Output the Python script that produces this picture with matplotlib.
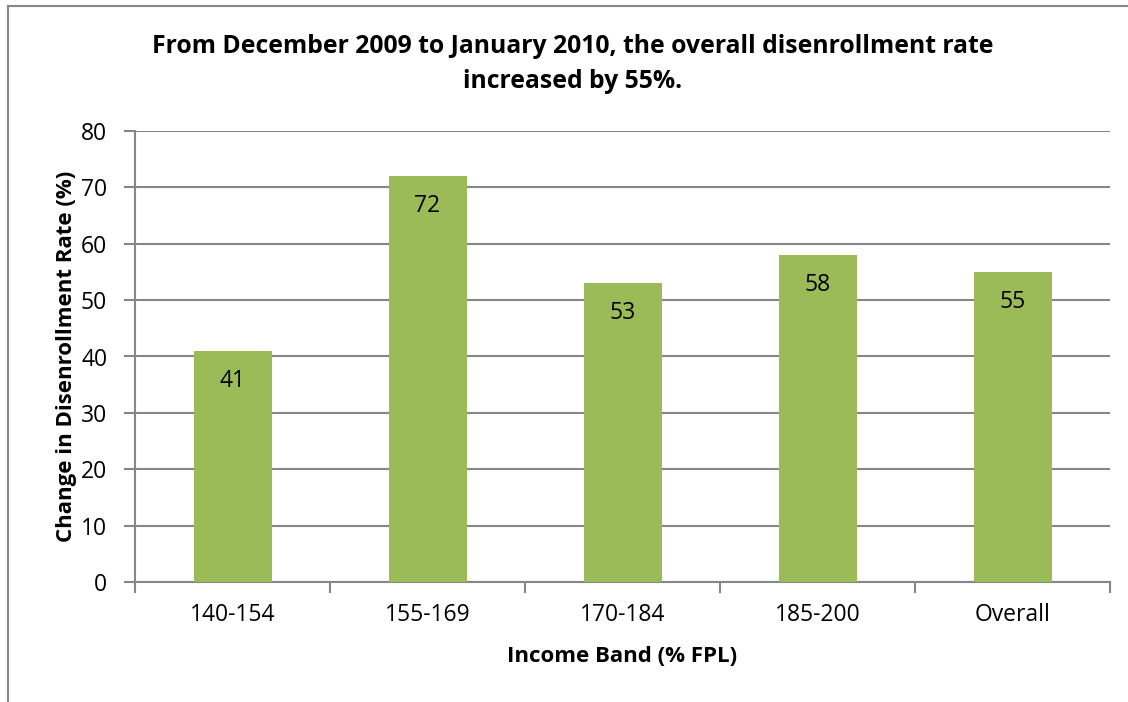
import matplotlib.pyplot as plt
from matplotlib.lines import Line2D

bands = ["140-154", "155-169", "170-184", "185-200", "Overall"]
rate_change = [41, 72, 53, 58, 55]
y_ticks = [0, 10, 20, 30, 40, 50, 60, 70, 80]

plt.rcParams["font.family"] = ["Open Sans", "DejaVu Sans"]

fig = plt.figure(figsize=(11.28, 7.02), dpi=100)
W, H = 1128, 702
# plot area in pixels: x 135..1110, y 131..582
ax = fig.add_axes([135 / W, 1 - 582 / H, (1110 - 135) / W, (582 - 131) / H])

grid_col = "#868686"
bar_col = "#9BBB59"
fs = 16.5

x = range(len(bands))
bars = ax.bar(x, rate_change, width=0.4, color=bar_col, zorder=3)
for b, v in zip(bars, rate_change):
    ax.text(b.get_x() + b.get_width() / 2, v - 5.3, str(v), ha="center", va="center",
            fontsize=fs, color="black", zorder=4)

ax.set_xlim(-0.5, len(bands) - 0.5)
ax.set_ylim(0, 80)
ax.set_yticks(y_ticks)
ax.set_yticklabels([str(t) for t in y_ticks], fontsize=fs)
ax.yaxis.grid(True, color=grid_col, linewidth=1.5, zorder=0)
ax.set_axisbelow(True)

# category labels centred, tick marks on the boundaries
ax.set_xticks(list(x))
ax.set_xticklabels(bands, fontsize=fs)
ax.tick_params(axis="x", length=0, pad=15)
ax.set_xticks([i - 0.5 for i in range(len(bands) + 1)], minor=True)
ax.tick_params(axis="x", which="minor", length=8, width=1.5, color=grid_col, direction="out")
ax.tick_params(axis="y", length=8, width=1.5, color=grid_col, direction="out", pad=12)

for side in ("top", "right"):
    ax.spines[side].set_visible(False)
for side in ("left", "bottom"):
    ax.spines[side].set_color(grid_col)
    ax.spines[side].set_linewidth(1.5)

ax.set_xlabel("Income Band (% FPL)", fontsize=16, fontweight="bold", labelpad=14)
ax.set_ylabel("Change in Disenrollment Rate (%)", fontsize=16, fontweight="bold", labelpad=3)

fig.text(573 / W, 1 - 64 / H,
         "From December 2009 to January 2010, the overall disenrollment rate\nincreased by 55%.",
         ha="center", va="center", fontsize=17.8, fontweight="bold", linespacing=1.55)

# chart frame: left and top edges only
fig.add_artist(Line2D([8 / W, 8 / W], [0, 1 - 6 / H], transform=fig.transFigure,
                      color=grid_col, linewidth=1.5))
fig.add_artist(Line2D([8 / W, 1], [1 - 6 / H, 1 - 6 / H], transform=fig.transFigure,
                      color=grid_col, linewidth=1.5))

fig.savefig("out.png", dpi=100, facecolor="white")
